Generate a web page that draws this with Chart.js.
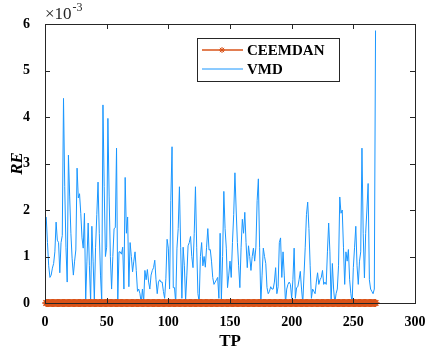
<!DOCTYPE html>
<html>
<head>
    <title>RE comparison</title>
    <style>
        body { margin: 0; background: #fff; }
        canvas { display: block; }
    </style>
    <script src="https://cdn.jsdelivr.net/npm/chart.js@4"></script>
</head>
<body>
    <canvas id="reChart" width="425" height="350"></canvas>

    <script>
        // RE values in units of 1e-3 (axis shows x10^-3)
        const vmd = [
            1.85, 1.3, 0.8, 0.55, 0.6, 0.75, 0.85, 1.1, 1.74, 1.35,
            1.3, 0.65, 1.3, 1.45, 4.4, 2.5, 1.2, 0.45, 3.18, 2.3,
            1.5, 0.95, 0.6, 0.9, 1.14, 2.9, 2.26, 2.35, 1.93, 1.4,
            1.18, 1.93, 0.06, 0.9, 1.72, 0.8, 0.02, 1.65, 0.9, 0.06,
            1.2, 1.9, 2.6, 1.5, 0.6, 0.04, 4.26, 2.5, 1.0, 1.2,
            3.97, 2.3, 1.0, 0.3, 1.0, 1.6, 1.62, 3.33, 0.02, 1.1,
            1.1, 1.05, 1.2, 0.3, 2.7, 1.5, 1.85, 0.35, 1.3, 1.0,
            0.67, 0.9, 1.1, 0.7, 0.25, 0.3, 0.2, 0.0, 0.3, 0.02,
            0.7, 0.5, 0.72, 0.45, 0.3, 0.6, 0.7, 0.76, 0.92, 0.5,
            0.2, 0.45, 0.5, 0.45, 0.45, 0.25, 0.1, 0.52, 1.37, 1.18,
            0.3, 2.2, 3.36, 0.33, 0.33, 0.0, 1.18, 1.6, 2.5, 1.2,
            0.1, 1.2, 0.8, 0.05, 0.6, 1.23, 1.3, 1.43, 1.0, 0.76,
            1.5, 2.5, 1.2, 0.2, 0.02, 1.0, 1.3, 0.8, 1.0, 0.77,
            1.2, 1.6, 1.14, 1.15, 0.9, 0.55, 0.4, 0.45, 0.5, 0.55,
            0.1, 1.5, 0.05, 1.0, 2.4, 1.6, 1.18, 0.33, 0.6, 0.9,
            0.55, 1.3, 1.9, 2.8, 2.0, 1.3, 0.8, 0.33, 1.2, 1.8,
            1.5, 1.95, 1.3, 0.76, 1.23, 1.0, 0.7, 1.0, 1.18, 0.9,
            1.2, 2.2, 2.67, 1.2, 0.0, 0.6, 1.18, 1.0, 0.85, 0.33,
            0.2, 0.25, 0.35, 0.3, 0.3, 0.45, 0.76, 0.2, 0.35, 1.3,
            1.4, 0.55, 1.1, 0.6, 0.0, 0.3, 0.4, 0.45, 0.4, 0.1,
            0.5, 1.18, 0.1, 0.33, 0.35, 0.5, 0.68, 0.3, 0.0, 0.6,
            1.2, 1.9, 2.17, 1.6, 0.8, 0.1, 0.3, 0.25, 0.2, 0.45,
            0.65, 0.4, 0.5, 0.55, 0.7, 0.4, 0.45, 0.4, 1.1, 1.72,
            1.1, 0.0, 0.85, 0.3, 0.0, 0.2, 0.3, 0.8, 2.28, 1.93,
            2.0, 1.2, 0.4, 1.1, 0.9, 1.15, 0.5, 0.2, 0.0, 0.76,
            1.2, 1.65, 0.8, 0.4, 0.9, 1.1, 3.33, 1.5, 0.54, 1.5,
            2.0, 2.57, 0.5, 0.3, 0.25, 0.2, 0.3, 5.86
        ];

        const ceemdan = [
            0, 0, 0, 0, 0, 0, 0, 0, 0, 0, 0, 0, 0, 0, 0, 0, 0, 0, 0, 0,
            0, 0, 0, 0, 0, 0, 0, 0, 0, 0, 0, 0, 0, 0, 0, 0, 0, 0, 0, 0,
            0, 0, 0, 0, 0, 0, 0, 0, 0, 0, 0, 0, 0, 0, 0, 0, 0, 0, 0, 0,
            0, 0, 0, 0, 0, 0, 0, 0, 0, 0, 0, 0, 0, 0, 0, 0, 0, 0, 0, 0,
            0, 0, 0, 0, 0, 0, 0, 0, 0, 0, 0, 0, 0, 0, 0, 0, 0, 0, 0, 0,
            0, 0, 0, 0, 0, 0, 0, 0, 0, 0, 0, 0, 0, 0, 0, 0, 0, 0, 0, 0,
            0, 0, 0, 0, 0, 0, 0, 0, 0, 0, 0, 0, 0, 0, 0, 0, 0, 0, 0, 0,
            0, 0, 0, 0, 0, 0, 0, 0, 0, 0, 0, 0, 0, 0, 0, 0, 0, 0, 0, 0,
            0, 0, 0, 0, 0, 0, 0, 0, 0, 0, 0, 0, 0, 0, 0, 0, 0, 0, 0, 0,
            0, 0, 0, 0, 0, 0, 0, 0, 0, 0, 0, 0, 0, 0, 0, 0, 0, 0, 0, 0,
            0, 0, 0, 0, 0, 0, 0, 0, 0, 0, 0, 0, 0, 0, 0, 0, 0, 0, 0, 0,
            0, 0, 0, 0, 0, 0, 0, 0, 0, 0, 0, 0, 0, 0, 0, 0, 0, 0, 0, 0,
            0, 0, 0, 0, 0, 0, 0, 0, 0, 0, 0, 0, 0, 0, 0, 0, 0, 0, 0, 0,
            0, 0, 0, 0, 0, 0, 0, 0
        ];

        const xTicks = [0, 50, 100, 150, 200, 250, 300];
        const yTicks = [0, 1, 2, 3, 4, 5, 6];
        const tp = vmd.map((_, i) => i + 1);

        const serif = '"Liberation Serif", "Times New Roman", serif';
        const axisColor = '#262626';

        // MATLAB-style box, inward ticks on all sides, legend and exponent label
        const matlabAxes = {
            id: 'matlabAxes',
            afterDraw(chart) {
                const { ctx, chartArea: a, scales: { x, y } } = chart;
                ctx.save();
                ctx.strokeStyle = axisColor;
                ctx.lineWidth = 1;
                ctx.strokeRect(a.left + 0.5, a.top + 0.5, a.right - a.left, a.bottom - a.top);
                ctx.beginPath();
                xTicks.forEach(v => {
                    const px = Math.round(x.getPixelForValue(v)) + 0.5;
                    ctx.moveTo(px, a.bottom); ctx.lineTo(px, a.bottom - 5);
                    ctx.moveTo(px, a.top); ctx.lineTo(px, a.top + 5);
                });
                yTicks.forEach(v => {
                    const py = Math.round(y.getPixelForValue(v)) + 0.5;
                    ctx.moveTo(a.left, py); ctx.lineTo(a.left + 5, py);
                    ctx.moveTo(a.right, py); ctx.lineTo(a.right - 5, py);
                });
                ctx.stroke();

                // x10^-3 exponent
                ctx.fillStyle = axisColor;
                ctx.textBaseline = 'alphabetic';
                ctx.textAlign = 'left';
                ctx.font = '17px ' + serif;
                ctx.fillText('\u00d710', a.left, a.top - 5);
                const w = ctx.measureText('\u00d710').width;
                ctx.font = '12px ' + serif;
                ctx.fillText('-3', a.left + w + 1, a.top - 13);

                // legend box
                const lx = 197, ly = 38, lw = 142, lh = 43;
                ctx.fillStyle = '#fff';
                ctx.fillRect(lx, ly, lw, lh);
                ctx.strokeStyle = axisColor;
                ctx.lineWidth = 1;
                ctx.strokeRect(lx + 0.5, ly + 0.5, lw, lh);
                chart.data.datasets.forEach((ds, i) => {
                    const yy = ly + 12 + i * 19;
                    ctx.strokeStyle = ds.borderColor;
                    ctx.lineWidth = ds.borderWidth;
                    ctx.beginPath();
                    ctx.moveTo(lx + 5, yy); ctx.lineTo(lx + 46, yy);
                    ctx.stroke();
                    if (ds.pointRadius > 0) {
                        ctx.lineWidth = 1;
                        Chart.helpers.drawPoint(ctx, {
                            pointStyle: ds.pointStyle, radius: 3,
                            borderWidth: 1, rotation: 0
                        }, lx + 25, yy);
                    }
                    ctx.fillStyle = '#000';
                    ctx.font = 'bold 15px ' + serif;
                    ctx.textBaseline = 'middle';
                    ctx.fillText(ds.label, lx + 50, yy + 1);
                });
                ctx.restore();
            }
        };

        const ctx = document.getElementById('reChart').getContext('2d');
        new Chart(ctx, {
            type: 'line',
            data: {
                labels: tp,
                datasets: [{
                    label: 'CEEMDAN',
                    data: tp.map((t, i) => ({ x: t, y: ceemdan[i] })),
                    borderColor: '#D95319',
                    backgroundColor: 'rgba(0,0,0,0)',
                    borderWidth: 1.5,
                    pointStyle: 'star',
                    pointRadius: 4,
                    pointBorderWidth: 1.5,
                    clip: 6
                }, {
                    label: 'VMD',
                    data: tp.map((t, i) => ({ x: t, y: vmd[i] })),
                    borderColor: 'rgb(25,150,255)',
                    borderWidth: 1,
                    pointRadius: 0,
                    tension: 0
                }]
            },
            options: {
                responsive: false,
                animation: false,
                devicePixelRatio: 1,
                layout: { padding: { top: 24, right: 2, left: 0, bottom: 0 } },
                plugins: { legend: { display: false }, tooltip: { enabled: false } },
                scales: {
                    x: {
                        type: 'linear', min: 0, max: 300,
                        afterFit: s => { s.height = 47; s.paddingRight = 10; },
                        afterBuildTicks: s => { s.ticks = xTicks.map(v => ({ value: v })); },
                        grid: { display: false },
                        border: { display: false },
                        ticks: {
                            color: '#000', padding: 3,
                            font: { family: serif, size: 14, weight: 'bold' }
                        },
                        title: {
                            display: true, text: 'TP', color: '#000',
                            padding: { top: 0, bottom: 0 },
                            font: { family: serif, size: 17, weight: 'bold', lineHeight: 1 }
                        }
                    },
                    y: {
                        min: 0, max: 6,
                        afterFit: s => { s.width = 45; },
                        afterBuildTicks: s => { s.ticks = yTicks.map(v => ({ value: v })); },
                        grid: { display: false },
                        border: { display: false },
                        ticks: {
                            color: '#000', padding: 7,
                            font: { family: serif, size: 14, weight: 'bold' }
                        },
                        title: {
                            display: true, text: 'RE', color: '#000',
                            padding: { top: 9, bottom: 0 },
                            font: { family: serif, size: 17, weight: 'bold', style: 'italic', lineHeight: 1 }
                        }
                    }
                }
            },
            plugins: [matlabAxes]
        });
    </script>
</body>
</html>
